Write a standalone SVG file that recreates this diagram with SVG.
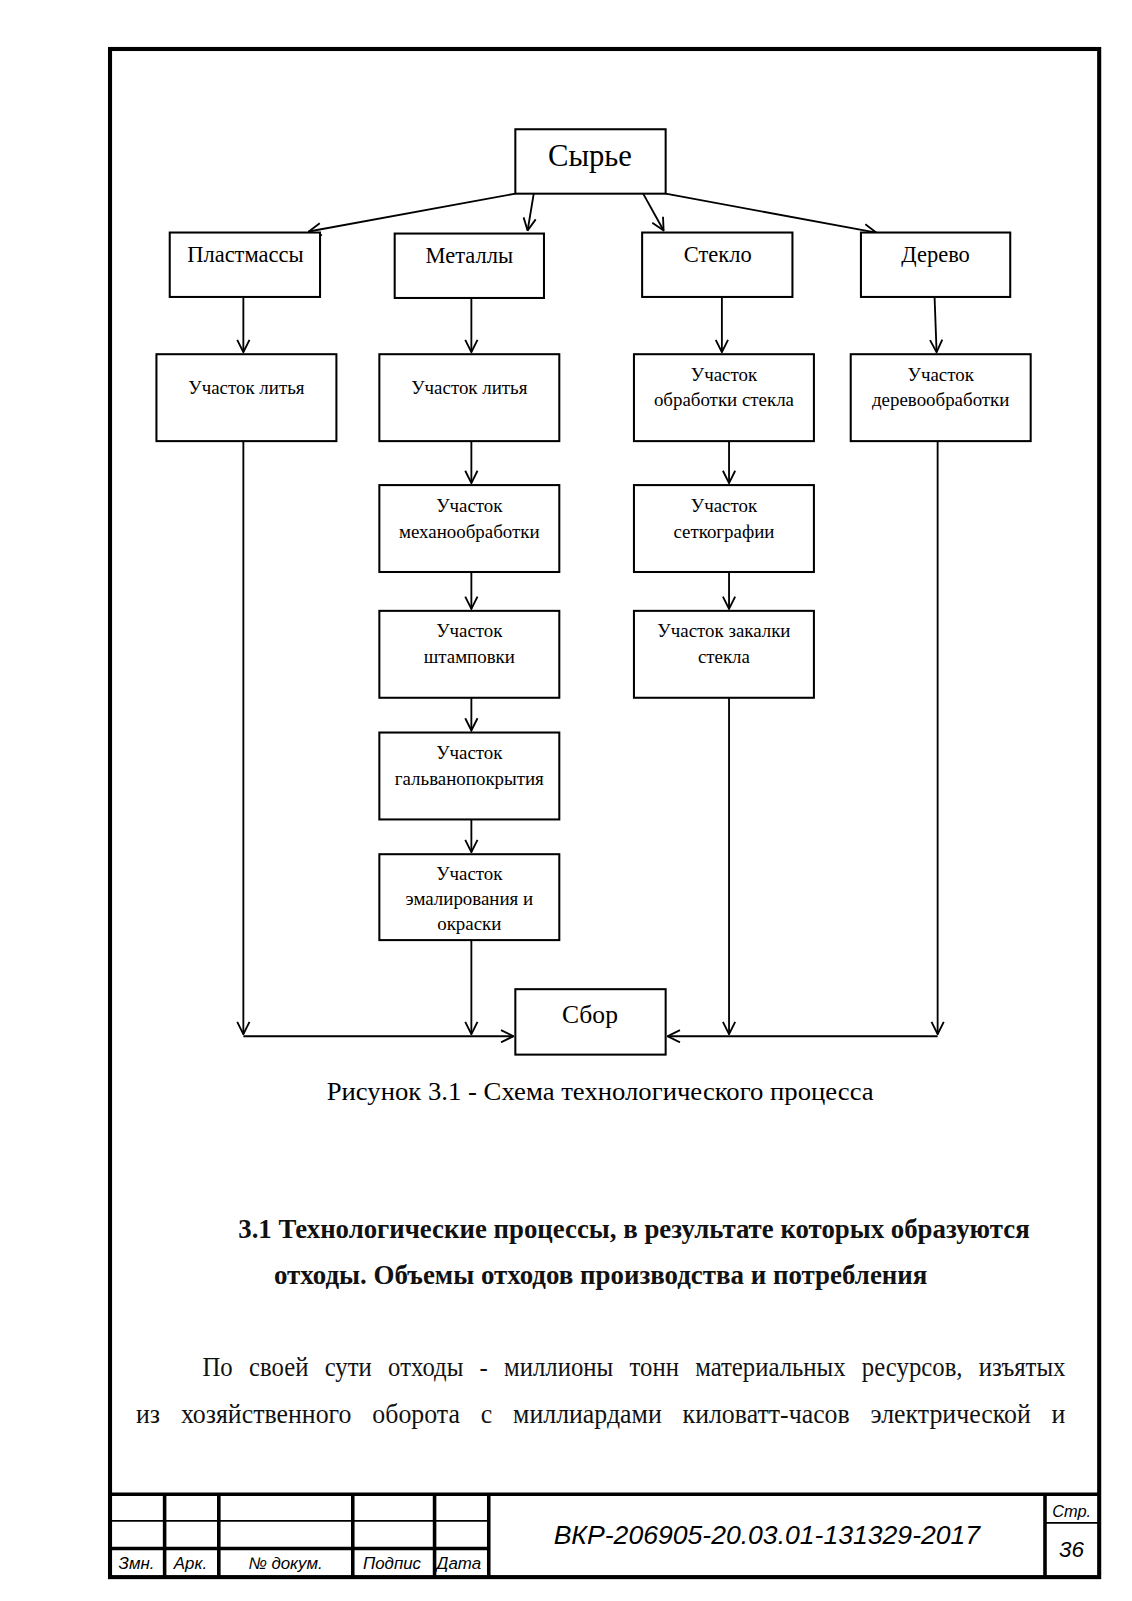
<svg xmlns="http://www.w3.org/2000/svg" width="1132" height="1601" viewBox="0 0 1132 1601">
<defs>
<style>
.box{fill:#fff;stroke:#000;stroke-width:2}
.t{font-family:"Liberation Serif","Times New Roman",serif;fill:#000;text-anchor:middle}
.lbl{font-size:22px}
.sm{font-size:18.5px}
.con{fill:none;stroke:#000;stroke-width:1.8}
.frame{fill:none;stroke:#000;stroke-width:4}
.thick{stroke:#000;stroke-width:3.5}
.thin{stroke:#000;stroke-width:1.8}
.gost{font-family:"Liberation Sans",Arial,sans-serif;font-style:italic;fill:#000}
.body{font-family:"Liberation Serif","Times New Roman",serif;fill:#111}
</style>
<marker id="arr" viewBox="0 0 14 14" refX="13" refY="7" markerWidth="14" markerHeight="14" orient="auto" markerUnits="userSpaceOnUse">
<path d="M1,1 L13,7 L1,13" fill="none" stroke="#000" stroke-width="1.8"/>
</marker>
</defs>
<rect width="1132" height="1601" fill="#fff"/>
<g transform="translate(0,-0.6) scale(1.0225)">

<!-- page frame -->
<rect class="frame" x="107.6" y="48.5" width="967.4" height="1494.5"/>

<!-- connectors -->
<g id="connectors">
<line class="con" x1="504" y1="190" x2="302" y2="227" marker-end="url(#arr)"/>
<line class="con" x1="522" y1="190" x2="516" y2="226" marker-end="url(#arr)"/>
<line class="con" x1="629" y1="190" x2="649" y2="226" marker-end="url(#arr)"/>
<line class="con" x1="651" y1="190" x2="857" y2="228" marker-end="url(#arr)"/>
<line class="con" x1="238" y1="291" x2="238" y2="345" marker-end="url(#arr)"/>
<line class="con" x1="461" y1="292" x2="461" y2="345" marker-end="url(#arr)"/>
<line class="con" x1="706" y1="291" x2="706" y2="345" marker-end="url(#arr)"/>
<line class="con" x1="914" y1="291" x2="916" y2="345" marker-end="url(#arr)"/>
<line class="con" x1="461" y1="432" x2="461" y2="473" marker-end="url(#arr)"/>
<line class="con" x1="461" y1="560" x2="461" y2="596" marker-end="url(#arr)"/>
<line class="con" x1="461" y1="683" x2="461" y2="715" marker-end="url(#arr)"/>
<line class="con" x1="461" y1="802" x2="461" y2="834" marker-end="url(#arr)"/>
<line class="con" x1="713" y1="432" x2="713" y2="473" marker-end="url(#arr)"/>
<line class="con" x1="713" y1="560" x2="713" y2="596" marker-end="url(#arr)"/>
<line class="con" x1="238" y1="432" x2="238" y2="1012" marker-end="url(#arr)"/>
<line class="con" x1="461" y1="920" x2="461" y2="1012" marker-end="url(#arr)"/>
<line class="con" x1="713" y1="683" x2="713" y2="1012" marker-end="url(#arr)"/>
<line class="con" x1="917" y1="432" x2="917" y2="1012" marker-end="url(#arr)"/>
<line class="con" x1="238" y1="1014" x2="502" y2="1014" marker-end="url(#arr)"/>
<line class="con" x1="917" y1="1014" x2="653" y2="1014" marker-end="url(#arr)"/>
</g>

<!-- nodes -->
<g id="syrye"><rect class="box" x="504" y="127" width="147" height="63"/><text class="t" x="577" y="163" font-size="30">Сырье</text></g>
<g id="plastmassy"><rect class="box" x="166" y="228" width="147" height="63"/><text class="t lbl" x="240" y="257">Пластмассы</text></g>
<g id="metally"><rect class="box" x="386" y="229" width="146" height="63"/><text class="t lbl" x="459" y="258">Металлы</text></g>
<g id="steklo"><rect class="box" x="628" y="228" width="147" height="63"/><text class="t lbl" x="702" y="257">Стекло</text></g>
<g id="derevo"><rect class="box" x="842" y="228" width="146" height="63"/><text class="t lbl" x="915" y="257">Дерево</text></g>

<g id="litye1"><rect class="box" x="153" y="347" width="176" height="85"/><text class="t sm" x="241" y="386">Участок литья</text></g>
<g id="litye2"><rect class="box" x="371" y="347" width="176" height="85"/><text class="t sm" x="459" y="386">Участок литья</text></g>
<g id="obrabotka-stekla"><rect class="box" x="620" y="347" width="176" height="85"/><text class="t sm" x="708" y="373">Участок</text><text class="t sm" x="708" y="398">обработки стекла</text></g>
<g id="derevoobrabotka"><rect class="box" x="832" y="347" width="176" height="85"/><text class="t sm" x="920" y="373">Участок</text><text class="t sm" x="920" y="398">деревообработки</text></g>

<g id="mekhanoobrabotka"><rect class="box" x="371" y="475" width="176" height="85"/><text class="t sm" x="459" y="501">Участок</text><text class="t sm" x="459" y="527">механообработки</text></g>
<g id="shtampovka"><rect class="box" x="371" y="598" width="176" height="85"/><text class="t sm" x="459" y="624">Участок</text><text class="t sm" x="459" y="649">штамповки</text></g>
<g id="galvano"><rect class="box" x="371" y="717" width="176" height="85"/><text class="t sm" x="459" y="743">Участок</text><text class="t sm" x="459" y="768">гальванопокрытия</text></g>
<g id="emal"><rect class="box" x="371" y="836" width="176" height="84"/><text class="t sm" x="459" y="861">Участок</text><text class="t sm" x="459" y="886">эмалирования и</text><text class="t sm" x="459" y="910">окраски</text></g>

<g id="setkografiya"><rect class="box" x="620" y="475" width="176" height="85"/><text class="t sm" x="708" y="501">Участок</text><text class="t sm" x="708" y="527">сеткографии</text></g>
<g id="zakalka"><rect class="box" x="620" y="598" width="176" height="85"/><text class="t sm" x="708" y="624">Участок закалки</text><text class="t sm" x="708" y="649">стекла</text></g>

<g id="sbor"><rect class="box" x="504" y="968" width="147" height="64"/><text class="t" x="577" y="1001" font-size="25">Сбор</text></g>

<!-- caption and text -->
<text class="t" x="587" y="1076" font-size="25" fill="#222" textLength="535" lengthAdjust="spacingAndGlyphs">Рисунок 3.1 - Схема технологического процесса</text>
<text class="body" x="233" y="1211" font-weight="bold" font-size="26" textLength="774" lengthAdjust="spacingAndGlyphs">3.1 Технологические процессы, в результате которых образуются</text>
<text class="body" x="268" y="1256" font-weight="bold" font-size="26" textLength="639" lengthAdjust="spacingAndGlyphs">отходы. Объемы отходов производства и потребления</text>
<g transform="scale(0.92,1)">
<text class="body" x="215.2" y="1346" font-size="27" word-spacing="11" textLength="917.4" lengthAdjust="spacingAndGlyphs">По своей сути отходы - миллионы тонн материальных ресурсов, изъятых</text>
<text class="body" x="144.6" y="1392" font-size="27" word-spacing="15" textLength="988" lengthAdjust="spacingAndGlyphs">из хозяйственного оборота с миллиардами киловатт-часов электрической и</text>
</g>

<!-- title block -->
<g id="title-block">
<line class="thick" x1="108" y1="1462" x2="1075" y2="1462"/>
<line class="thin" x1="108" y1="1488" x2="478" y2="1488"/>
<line class="thick" x1="108" y1="1515" x2="478" y2="1515"/>
<line class="thick" x1="161" y1="1462" x2="161" y2="1543"/>
<line class="thick" x1="214" y1="1462" x2="214" y2="1543"/>
<line class="thick" x1="345" y1="1462" x2="345" y2="1543"/>
<line class="thick" x1="425" y1="1462" x2="425" y2="1543"/>
<line class="thick" x1="478" y1="1462" x2="478" y2="1543"/>
<line class="thick" x1="1022" y1="1462" x2="1022" y2="1543"/>
<line class="thin" x1="1022" y1="1490" x2="1075" y2="1490"/>
<text class="gost" x="116" y="1535" font-size="16.5">Змн.</text>
<text class="gost" x="170" y="1535" font-size="16.5">Арк.</text>
<text class="gost" x="243" y="1535" font-size="16.5">№ докум.</text>
<text class="gost" x="355" y="1535" font-size="16.5">Подпис</text>
<text class="gost" x="427" y="1535" font-size="16.5">Дата</text>
<text class="gost" x="750" y="1511" font-size="26" text-anchor="middle">ВКР-206905-20.03.01-131329-2017</text>
<text class="gost" x="1048" y="1484" font-size="16" text-anchor="middle">Стр.</text>
<text class="gost" x="1048" y="1523" font-size="22" text-anchor="middle">36</text>
</g>
</g>
</svg>
